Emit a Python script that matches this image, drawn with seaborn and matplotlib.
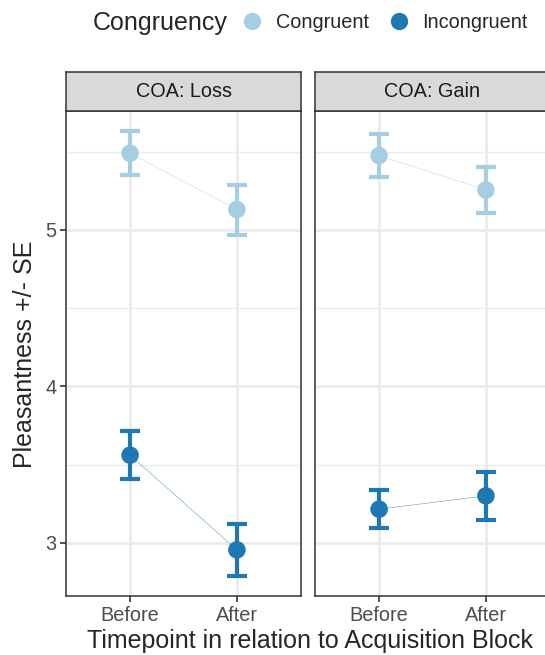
import numpy as np
import pandas as pd
import matplotlib
matplotlib.use("Agg")
import matplotlib.pyplot as plt
import seaborn as sns
from matplotlib.lines import Line2D

panels = ["COA: Loss", "COA: Gain"]
timepoints = ["Before", "After"]
groups = ["Congruent", "Incongruent"]
colors = {"Congruent": "#A6CEE3", "Incongruent": "#1F78B4"}

loss_congruent = [5.49, 5.13]
loss_congruent_se = [0.14, 0.16]
loss_incongruent = [3.56, 2.955]
loss_incongruent_se = [0.155, 0.165]
gain_congruent = [5.475, 5.255]
gain_congruent_se = [0.14, 0.145]
gain_incongruent = [3.215, 3.30]
gain_incongruent_se = [0.12, 0.155]

rows = []
for panel, (cv, cs, iv, ise) in zip(panels, [
        (loss_congruent, loss_congruent_se, loss_incongruent, loss_incongruent_se),
        (gain_congruent, gain_congruent_se, gain_incongruent, gain_incongruent_se)]):
    for i, t in enumerate(timepoints):
        rows.append(dict(panel=panel, time=t, x=i, group="Congruent", mean=cv[i], se=cs[i]))
        rows.append(dict(panel=panel, time=t, x=i, group="Incongruent", mean=iv[i], se=ise[i]))
df = pd.DataFrame(rows)

sns.set_theme(style="white")
plt.rcParams["font.family"] = ["Liberation Sans", "DejaVu Sans"]

W, H = 545, 655
fig = plt.figure(figsize=(W / 100, H / 100), dpi=100)

def fx(px):
    return px / W

def fy(py):
    return 1 - py / H

TICK_FS = 14.3
TITLE_FS = 18

panel_lefts = [66, 315]
pw = 235
top, bottom, strip_top = 111, 596, 72
for k, panel in enumerate(panels):
    L = panel_lefts[k]
    ax = fig.add_axes([fx(L), fy(bottom), pw / W, (bottom - top) / H])
    sub = df[df.panel == panel]
    ax.set_facecolor("white")
    for g in groups:
        s = sub[sub.group == g].sort_values("x")
        ax.plot(s.x, s["mean"], color=colors[g], lw=0.4, alpha=0.7, zorder=2)
        ax.errorbar(s.x, s["mean"], yerr=s.se, fmt="none", ecolor=colors[g],
                    elinewidth=3.0, capsize=7.5, capthick=3.0, zorder=3)
    sns.scatterplot(data=sub, x="x", y="mean", hue="group", palette=colors,
                    hue_order=groups, s=160, edgecolor="none", legend=False,
                    ax=ax, zorder=4)
    ax.set_xlim(-0.6, 1.6)
    ax.set_ylim(2.66, 5.76)
    ax.set_xticks([0, 1])
    ax.set_xticklabels(timepoints)
    ax.set_yticks([3, 4, 5])
    ax.set_yticks([3.5, 4.5, 5.5], minor=True)
    ax.grid(True, which="major", color="#EBEBEB", lw=2.0, zorder=0)
    ax.grid(True, which="minor", axis="y", color="#EBEBEB", lw=1.0, zorder=0)
    ax.set_axisbelow(True)
    for sp in ax.spines.values():
        sp.set_visible(True)
        sp.set_color("#333333")
        sp.set_linewidth(1.1)
    ax.tick_params(axis="both", which="major", length=4, width=1.2, color="#333333",
                   labelsize=TICK_FS, labelcolor="#4D4D4D", pad=3, direction="out")
    ax.tick_params(axis="both", which="minor", length=0)
    ax.set_xlabel("")
    ax.set_ylabel("")
    if k == 1:
        ax.tick_params(axis="y", which="both", left=False, labelleft=False)
    else:
        ax.tick_params(axis="y", left=True)
    ax.tick_params(axis="x", bottom=True)
    # facet strip
    sax = fig.add_axes([fx(L), fy(top), pw / W, (top - strip_top) / H])
    sax.set_facecolor("#D9D9D9")
    sax.set_xticks([])
    sax.set_yticks([])
    for sp in sax.spines.values():
        sp.set_visible(True)
        sp.set_color("#333333")
        sp.set_linewidth(1.1)
    sax.text(0.5, 0.5, panel, ha="center", va="center", fontsize=TICK_FS,
             color="#1A1A1A", transform=sax.transAxes)

fig.text(fx(25), fy(354), "Pleasantness +/- SE", rotation=90,
         ha="center", va="center", fontsize=TITLE_FS)
fig.text(fx(310), fy(641), "Timepoint in relation to Acquisition Block",
         ha="center", va="center", fontsize=TITLE_FS)

fig.text(fx(93), fy(23), "Congruency", ha="left", va="center", fontsize=TITLE_FS)
handles = [Line2D([0], [0], marker="o", linestyle="none", markersize=12.5,
                  markerfacecolor=colors[g], markeredgecolor="none", label=g) for g in groups]
fig.legend(handles=handles, loc="center left", bbox_to_anchor=(fx(240), fy(22)),
           ncol=2, frameon=False, fontsize=TICK_FS, handletextpad=0.6, columnspacing=0.9,
           handlelength=1.2, borderaxespad=0, borderpad=0)

fig.savefig("out.png", dpi=100, facecolor="white")
